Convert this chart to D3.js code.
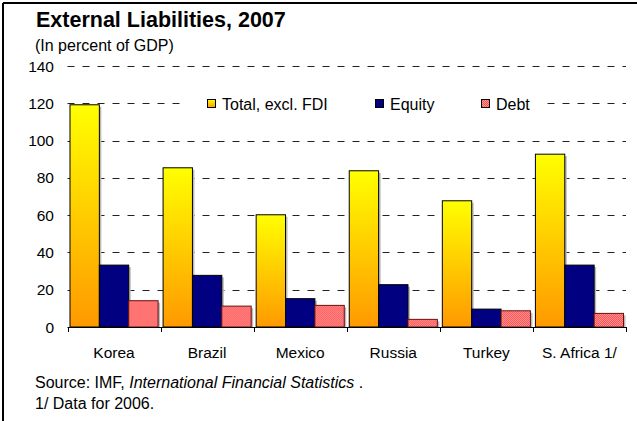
<!DOCTYPE html>
<html><head><meta charset="utf-8">
<script src="https://cdn.jsdelivr.net/npm/d3@7"></script>
<style>body{margin:0;background:#fff}svg{display:block;font-family:"Liberation Sans",Arial,sans-serif}</style>
</head><body>
<svg id="c" width="637" height="421"></svg>
<script>
const categories = ["Korea","Brazil","Mexico","Russia","Turkey","S. Africa 1/"];
const seriesNames = ["Total, excl. FDI","Equity","Debt"];
const totalVals = [119.2, 85.4, 60.2, 83.8, 67.7, 92.7];
const equityVals = [33.2, 27.7, 15.2, 22.7, 9.6, 33.2];
const debtVals = [14.1, 11.2, 11.6, 4.1, 8.7, 7.3];
const yTicks = [0,20,40,60,80,100,120,140];

const svg = d3.select("#c");
const defs = svg.append("defs");
const g1 = defs.append("linearGradient").attr("id","gTot").attr("x1",0).attr("y1",0).attr("x2",0).attr("y2",1);
g1.append("stop").attr("offset","0%").attr("stop-color","#FFFF00");
g1.append("stop").attr("offset","100%").attr("stop-color","#FF9900");
const pat = defs.append("pattern").attr("id","pDebt").attr("width",2).attr("height",2).attr("patternUnits","userSpaceOnUse");
pat.append("rect").attr("width",2).attr("height",2).attr("fill","#FF9999");
pat.append("rect").attr("width",1).attr("height",1).attr("fill","#FF4D4D");
pat.append("rect").attr("x",1).attr("y",1).attr("width",1).attr("height",1).attr("fill","#FF4D4D");
const fills = ["url(#gTot)","#000080","url(#pDebt)"];

// frame
svg.append("line").attr("x1",3).attr("x2",637).attr("y1",3).attr("y2",3).attr("stroke","#000").attr("stroke-width",2);
svg.append("line").attr("x1",3).attr("x2",3).attr("y1",3).attr("y2",421).attr("stroke","#000").attr("stroke-width",2);

svg.append("text").attr("x",36).attr("y",27).attr("font-size",21.5).attr("font-weight","bold").text("External Liabilities, 2007");
svg.append("text").attr("x",35).attr("y",51).attr("font-size",16).text("(In percent of GDP)");

const left = 67.5, right = 626, y0 = 327, yTop = 66;
const x = d3.scaleBand().domain(categories).range([left,right]).paddingInner(0).paddingOuter(0);
const y = d3.scaleLinear().domain([0,140]).range([y0,yTop]);
const xs = d3.scaleBand().domain(seriesNames).range([0,x.bandwidth()]).paddingInner(0).paddingOuter(0.085);

// gridlines
svg.append("g").selectAll("line").data(yTicks.filter(d=>d>0)).join("line")
  .attr("x1",left).attr("x2",right).attr("y1",d=>Math.round(y(d))+0.5).attr("y2",d=>Math.round(y(d))+0.5)
  .attr("stroke","#222").attr("stroke-dasharray","7,8");

// y labels
svg.append("g").selectAll("text").data(yTicks).join("text")
  .attr("x",54).attr("y",d=>y(d)+5.5).attr("text-anchor","end").attr("font-size",15.5).text(d=>d);

// legend box
const lg = svg.append("g");
lg.append("rect").attr("x",185).attr("y",94).attr("width",360).attr("height",22).attr("fill","#fff");
const legX = [207,375,481];
seriesNames.forEach((s,i)=>{
  lg.append("rect").attr("x",legX[i]+0.5).attr("y",99.5).attr("width",8).attr("height",8).attr("fill",fills[i]).attr("stroke","#000").attr("stroke-width",1);
  lg.append("text").attr("x",legX[i]+15).attr("y",110).attr("font-size",16).text(s);
});

// bars
const data = categories.map((c,i)=>({c, v:[totalVals[i],equityVals[i],debtVals[i]]}));
const grp = svg.append("g").selectAll("g").data(data).join("g").attr("transform",d=>`translate(${x(d.c)},0)`);
grp.selectAll("rect.sh").data(d=>d.v.map((v,i)=>({v,s:seriesNames[i],i}))).join("rect")
  .attr("x",d=>xs(d.s)+2).attr("y",d=>y(d.v)+2).attr("width",xs.bandwidth()).attr("height",d=>y0-y(d.v)-2)
  .attr("fill","#bbb");
grp.selectAll("rect.b").data(d=>d.v.map((v,i)=>({v,s:seriesNames[i],i}))).join("rect")
  .attr("x",d=>xs(d.s)).attr("y",d=>y(d.v)).attr("width",xs.bandwidth()).attr("height",d=>y0-y(d.v))
  .attr("fill",d=>fills[d.i]).attr("stroke",d=>d.i===2?"#661111":"#000").attr("stroke-width",1);

// x axis
const xa = svg.append("g").attr("transform",`translate(0,${y0})`);
xa.append("line").attr("x1",left).attr("x2",right).attr("y1",0.5).attr("y2",0.5).attr("stroke","#000");
const bounds = categories.map(c=>x(c)).concat([right]);
xa.selectAll("line.t").data(bounds).join("line").attr("class","t")
  .attr("x1",d=>Math.round(d)+0.5).attr("x2",d=>Math.round(d)+0.5).attr("y1",0).attr("y2",5).attr("stroke","#000");
xa.selectAll("text").data(categories).join("text")
  .attr("x",d=>x(d)+x.bandwidth()/2).attr("y",31).attr("text-anchor","middle").attr("font-size",15.5).text(d=>d);

const src = svg.append("text").attr("x",35).attr("y",388).attr("font-size",16);
src.append("tspan").text("Source: IMF, ");
src.append("tspan").attr("font-style","italic").text("International Financial Statistics");
src.append("tspan").text(" .");
svg.append("text").attr("x",35).attr("y",409).attr("font-size",16).text("1/ Data for 2006.");
</script>
</body></html>
